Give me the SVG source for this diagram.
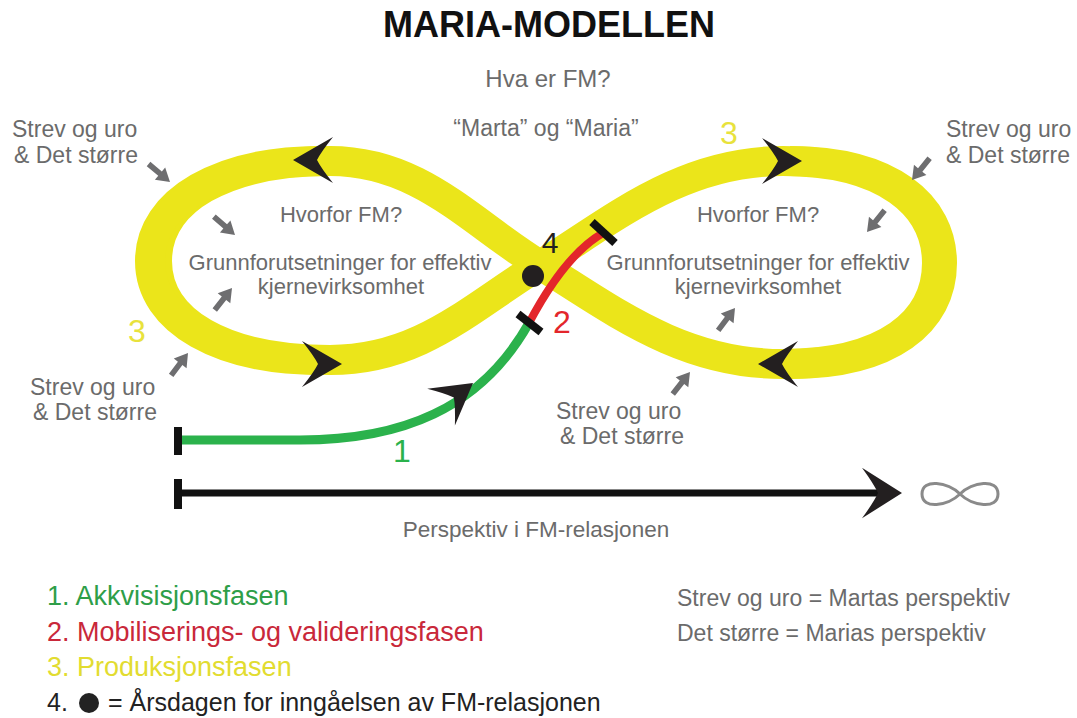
<svg xmlns="http://www.w3.org/2000/svg" width="1077" height="718" viewBox="0 0 1077 718">
<style>
text{font-family:"Liberation Sans",Arial,sans-serif}
.g{fill:#6b6b6b;font-size:23px}
.c{fill:#6b6b6b;font-size:22px;text-anchor:middle}
.yl{fill:none;stroke:#ebe51a;stroke-width:30}
.num{font-size:32px;text-anchor:middle}
.leg{font-size:27px}
.rl{fill:#6b6b6b;font-size:23px}
.tick{stroke:#111;stroke-width:8;stroke-linecap:butt}
</style>
<defs>
<path id="chev" d="M0,0 L-40,-23 Q-28,-8 -24,0 Q-28,8 -40,23 Z" fill="#231f20"/>
<polygon id="ga" points="-28,-2.8 -13,-2.8 -13,-8 0,0 -13,8 -13,2.8 -28,2.8" fill="#6e6e70"/>
</defs>
<rect width="1077" height="718" fill="#fff"/>

<g id="title">
<text x="549" y="37" font-size="36" font-weight="bold" text-anchor="middle" fill="#111">MARIA-MODELLEN</text>
</g>

<g id="infinity-loop">
<path class="yl" d="M 540 265 C 610 222, 680 161, 783 161 C 885 161, 937 205, 937 263 C 937 322, 885 364, 783 364 C 680 364, 610 308, 540 265 C 470 222, 420 161, 330 161 C 225 161, 157 200, 157 261 C 157 322, 225 360, 330 360 C 420 360, 470 308, 540 265 Z"/>
<path class="yl" stroke-width="28" d="M 320 161 C 222 161, 150 200, 150 261 C 150 322, 222 360, 320 360"/>
<path class="yl" stroke-width="28" d="M 790 161 C 890 161, 942 205, 942 263 C 942 322, 890 364, 790 364"/>
<use href="#chev" transform="translate(293,160) rotate(180)"/>
<use href="#chev" transform="translate(342,364)"/>
<use href="#chev" transform="translate(802,161)"/>
<use href="#chev" transform="translate(758,364) rotate(180)"/>
<text class="num" x="137" y="342" fill="#e8e23c">3</text>
<text class="num" x="729" y="144" fill="#e8e23c">3</text>
</g>

<g id="connectors">
<path d="M 180 440 L 300 440 C 400 440, 480 410, 529 323" fill="none" stroke="#2bb24c" stroke-width="9"/>
<path d="M 603 233 Q 565 255 529 323" fill="none" stroke="#e3262b" stroke-width="8"/>
<line class="tick" x1="178" y1="427" x2="178" y2="455"/>
<line class="tick" x1="518" y1="314" x2="541" y2="332"/>
<line class="tick" x1="592" y1="222" x2="615" y2="243"/>
<use href="#chev" transform="translate(473,383) rotate(-37)"/>
<line x1="178" y1="493" x2="880" y2="493" stroke="#111" stroke-width="7"/>
<line class="tick" x1="178" y1="479" x2="178" y2="509"/>
<use href="#chev" transform="translate(902,493) scale(1,1.1)"/>
</g>

<g id="anniversary">
<circle cx="533" cy="276" r="11" fill="#231f20"/>
<text x="550" y="253" font-size="30" text-anchor="middle" fill="#231f20">4</text>
</g>

<g id="phase-labels">
<text class="num" x="402" y="462" fill="#2bb24c">1</text>
<text class="num" x="562" y="333" fill="#e3262b">2</text>
</g>

<g id="pressure-arrows">
<use href="#ga" transform="translate(170,182) rotate(40)"/>
<use href="#ga" transform="translate(235,235) rotate(41)"/>
<use href="#ga" transform="translate(232,288) rotate(-52)"/>
<use href="#ga" transform="translate(188,353) rotate(-53)"/>
<use href="#ga" transform="translate(912,180) rotate(129)"/>
<use href="#ga" transform="translate(867,232) rotate(129)"/>
<use href="#ga" transform="translate(735,308) rotate(-53)"/>
<use href="#ga" transform="translate(690,372) rotate(-52)"/>
</g>

<g id="center-texts">
<text x="548" y="87" font-size="24" text-anchor="middle" fill="#6b6b6b">Hva er FM?</text>
<text x="546" y="136" font-size="23" text-anchor="middle" fill="#6b6b6b">“Marta” og “Maria”</text>
</g>

<g id="left-inner">
<text class="c" x="341" y="222">Hvorfor FM?</text>
<text class="c" x="340" y="270">Grunnforutsetninger for effektiv</text>
<text class="c" x="341" y="294">kjernevirksomhet</text>
</g>

<g id="right-inner">
<text class="c" x="758" y="222">Hvorfor FM?</text>
<text class="c" x="758" y="270">Grunnforutsetninger for effektiv</text>
<text class="c" x="758" y="294">kjernevirksomhet</text>
</g>

<g id="pressure-top-left">
<text class="g" x="12" y="137">Strev og uro</text>
<text class="g" x="14" y="163">&amp; Det større</text>
</g>
<g id="pressure-bottom-left">
<text class="g" x="30" y="395">Strev og uro</text>
<text class="g" x="33" y="420">&amp; Det større</text>
</g>
<g id="pressure-top-right">
<text class="g" x="946" y="137">Strev og uro</text>
<text class="g" x="946" y="163">&amp; Det større</text>
</g>
<g id="pressure-bottom-mid">
<text class="g" x="556" y="419">Strev og uro</text>
<text class="g" x="560" y="444">&amp; Det større</text>
</g>

<g id="timeline-label">
<text x="536" y="537" font-size="22.5" text-anchor="middle" fill="#6b6b6b">Perspektiv i FM-relasjonen</text>
<path d="M 960 494 C 972 482, 998 478, 998 494 C 998 510, 972 506, 960 494 C 948 482, 922 478, 922 494 C 922 510, 948 506, 960 494" fill="none" stroke="#8a8a8a" stroke-width="3"/>
</g>

<g id="legend">
<text class="leg" x="47" y="605" fill="#2e9e48">1. Akkvisisjonsfasen</text>
<text class="leg" x="47" y="641" fill="#c9283a">2. Mobiliserings- og valideringsfasen</text>
<text class="leg" x="47" y="676" fill="#e2dc30">3. Produksjonsfasen</text>
<text x="47" y="711" font-size="25" fill="#222">4.</text>
<circle cx="89" cy="703" r="10" fill="#222"/>
<text x="108" y="711" font-size="25" fill="#222">= Årsdagen for inngåelsen av FM-relasjonen</text>
</g>

<g id="legend-right">
<text class="rl" x="677" y="606">Strev og uro = Martas perspektiv</text>
<text class="rl" x="677" y="641">Det større = Marias perspektiv</text>
</g>
</svg>
